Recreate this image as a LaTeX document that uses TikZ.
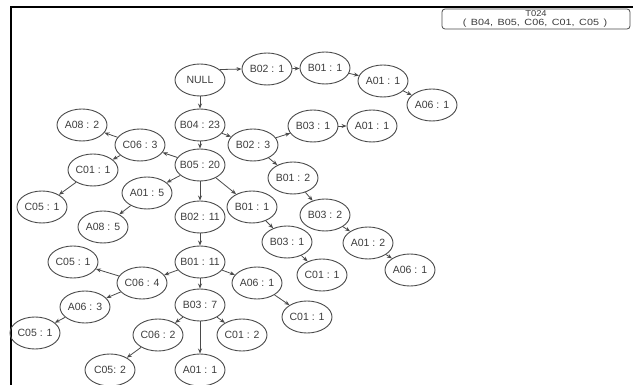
\documentclass[tikz,border=0pt]{standalone}
\usepackage{fontspec}
\setmainfont{Liberation Sans}
\usetikzlibrary{shapes.geometric,arrows.meta}
\definecolor{inkgray}{HTML}{4A4A4A}
\definecolor{textgray}{HTML}{3C3C3C}
\newcommand\nlab[1]{\makebox[28pt]{#1}}
\tikzset{
  item/.style={ellipse, draw=inkgray, line width=0.9pt, minimum width=50pt,
    minimum height=32pt, inner sep=0pt, text=textgray,
    font=\fontsize{10.5}{12}\selectfont},
  link/.style={draw=inkgray, line width=0.8pt,
    -{Stealth[length=5pt,width=4pt]}},
  frame/.style={line width=2pt, black},
  legend/.style={draw=inkgray, line width=0.8pt, rounded corners=3pt}
}
\begin{document}
\begin{tikzpicture}[x=1pt,y=-1pt]
\useasboundingbox (0,0) rectangle (633,385);
% outer frame (top and left sides)
\draw[frame] (11,386) -- (11,7) -- (634,7);
% legend box
\draw[legend] (442,9) rectangle (630,29);
\node[text=textgray, font=\fontsize{8.5}{9}\selectfont, inner sep=0pt] (lgtitle) at (536,14) {\scalebox{1.1}[1]{T024}};
\node[text=textgray, font=\fontsize{9}{10}\selectfont, inner sep=0pt] (lgitems) at (535,23.5)
  {\scalebox{1.2}[1]{\spaceskip=3.8pt ( B04,\ B05,\ C06,\ C01,\ C05 )}};

% nodes
\node[item] (null) at (200,80)  {\nlab{NULL}};
\node[item] (b02a) at (267,69)  {\nlab{B02 : 1}};
\node[item] (b01a) at (325,68)  {\nlab{B01 : 1}};
\node[item] (a01a) at (383,81)  {\nlab{A01 : 1}};
\node[item] (a06a) at (432,105) {\nlab{A06 : 1}};
\node[item] (b04)  at (200,125) {\nlab{B04 : 23}};
\node[item] (b03a) at (313,126) {\nlab{B03 : 1}};
\node[item] (a01b) at (372,126) {\nlab{A01 : 1}};
\node[item] (b02b) at (253,145) {\nlab{B02 : 3}};
\node[item] (b01b) at (293,178) {\nlab{B01 : 2}};
\node[item] (b03b) at (325,215) {\nlab{B03 : 2}};
\node[item] (a01c) at (368,243) {\nlab{A01 : 2}};
\node[item] (a06b) at (410,270) {\nlab{A06 : 1}};
\node[item] (b05)  at (200,165) {\nlab{B05 : 20}};
\node[item] (c06a) at (140,145) {\nlab{C06 : 3}};
\node[item] (a08a) at (82,125)  {\nlab{A08 : 2}};
\node[item] (c01a) at (93,170)  {\nlab{C01 : 1}};
\node[item] (c05a) at (42,207)  {\nlab{C05 : 1}};
\node[item] (a01d) at (147,193) {\nlab{A01 : 5}};
\node[item] (a08b) at (103,227) {\nlab{A08 : 5}};
\node[item] (b02c) at (200,217) {\nlab{B02 : 11}};
\node[item] (b01c) at (252,207) {\nlab{B01 : 1}};
\node[item] (b03c) at (287,242) {\nlab{B03 : 1}};
\node[item] (c01b) at (322,275) {\nlab{C01 : 1}};
\node[item] (b01d) at (200,262) {\nlab{B01 : 11}};
\node[item] (c06b) at (142,283) {\nlab{C06 : 4}};
\node[item] (c05b) at (73,262)  {\nlab{C05 : 1}};
\node[item] (a06c) at (85,307)  {\nlab{A06 : 3}};
\node[item] (c05c) at (35,333)  {\nlab{C05 : 1}};
\node[item] (a06d) at (257,283) {\nlab{A06 : 1}};
\node[item] (c01c) at (307,317) {\nlab{C01 : 1}};
\node[item] (b03d) at (200,305) {\nlab{B03 : 7}};
\node[item] (c06c) at (158,335) {\nlab{C06 : 2}};
\node[item] (c01d) at (242,335) {\nlab{C01 : 2}};
\node[item] (c05d) at (110,370) {\nlab{C05: 2}};
\node[item] (a01e) at (200,370) {\nlab{A01 : 1}};

% connectors
\path[link] (null.28) -- (b02a.west);
\path[link] (b02a) -- (b01a);
\path[link] (b01a) -- (a01a);
\path[link] (a01a) -- (a06a);
\path[link] (null) -- (b04);
\path[link] (b04) -- (b02b);
\path[link] (b02b) -- (b03a);
\path[link] (b03a) -- (a01b);
\path[link] (b02b) -- (b01b);
\path[link] (b01b) -- (b03b);
\path[link] (b03b) -- (a01c);
\path[link] (a01c) -- (a06b);
\path[link] (b04) -- (b05);
\path[link] (b05) -- (c06a);
\path[link] (c06a) -- (a08a);
\path[link] (c06a) -- (c01a);
\path[link] (c01a) -- (c05a);
\path[link] (b05) -- (a01d);
\path[link] (a01d) -- (a08b);
\path[link] (b05) -- (b02c);
\path[link] (b05) -- (b01c);
\path[link] (b01c) -- (b03c);
\path[link] (b03c) -- (c01b);
\path[link] (b02c) -- (b01d);
\path[link] (b01d) -- (c06b);
\path[link] (c06b) -- (c05b);
\path[link] (c06b) -- (a06c);
\path[link] (a06c) -- (c05c);
\path[link] (b01d) -- (a06d);
\path[link] (a06d) -- (c01c);
\path[link] (b01d) -- (b03d);
\path[link] (b03d) -- (c06c);
\path[link] (c06c) -- (c05d);
\path[link] (b03d) -- (a01e);
\path[link] (b03d) -- (c01d);
\end{tikzpicture}
\end{document}
